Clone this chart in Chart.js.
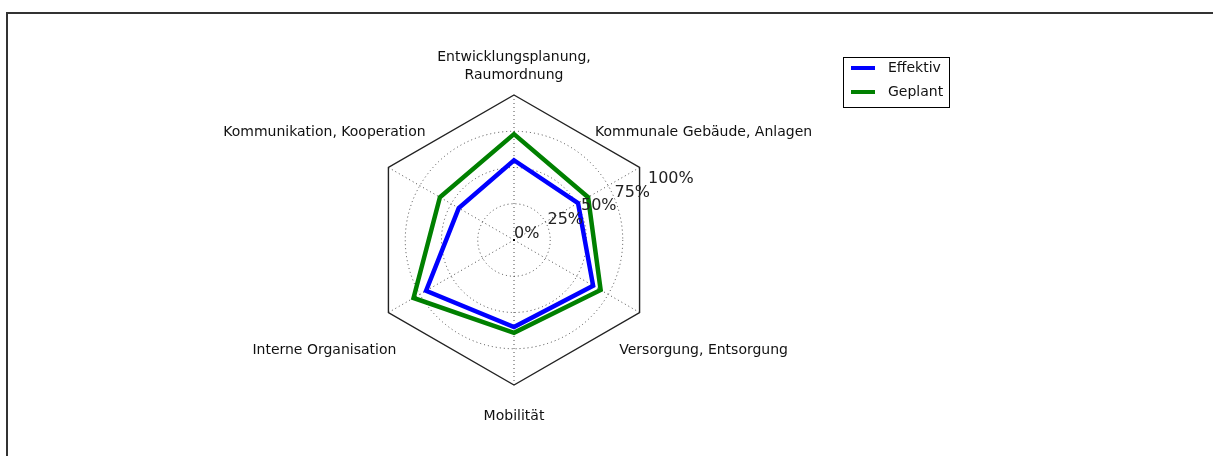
<!DOCTYPE html>
<html>
<head>
<meta charset="utf-8">
<script src="https://cdn.jsdelivr.net/npm/chart.js@4.4.0/dist/chart.umd.min.js"></script>
<style>
    html, body { margin: 0; padding: 0; background: #fff; overflow: hidden; }
    #wrap { position: relative; width: 1213px; height: 456px; overflow: hidden; }
    #frame { position: absolute; left: 6px; top: 12px; width: 1300px; height: 500px;
             border-left: 2px solid #333; border-top: 2px solid #333; }
    #radarChart { position: absolute; left: 0; top: 0; }
</style>
</head>
<body>
<div id="wrap">
    <div id="frame"></div>
    <canvas id="radarChart" width="1213" height="456"></canvas>
</div>
<script>
// categories, clockwise from the top
const categories = [
    ['Entwicklungsplanung,', 'Raumordnung'],
    'Kommunale Gebäude, Anlagen',
    'Versorgung, Entsorgung',
    'Mobilität',
    'Interne Organisation',
    'Kommunikation, Kooperation'
];
const effektiv = [55, 51, 63, 60, 70, 44];
const geplant = [73, 59, 69, 64, 80, 59];
const tickValues = [0, 25, 50, 75, 100];
const tickLabels = ['0%', '25%', '50%', '75%', '100%'];

const FONT = "'DejaVu Sans', sans-serif";

//=========FRAME + LABELS=============
const radarExtras = {
    id: 'radarExtras',
    beforeDatasetsDraw(chart) {
        const scale = chart.scales.r;
        const ctx = chart.ctx;
        const n = chart.data.labels.length;
        // outer hexagon
        ctx.save();
        ctx.beginPath();
        for (let i = 0; i < n; i++) {
            const p = scale.getPointPositionForValue(i, tickValues[tickValues.length - 1]);
            if (i === 0) ctx.moveTo(p.x, p.y); else ctx.lineTo(p.x, p.y);
        }
        ctx.closePath();
        ctx.strokeStyle = '#222';
        ctx.lineWidth = 1.4;
        ctx.setLineDash([]);
        ctx.stroke();

        // category labels
        ctx.font = '14px ' + FONT;
        ctx.fillStyle = '#111';
        ctx.textAlign = 'center';
        ctx.textBaseline = 'middle';
        for (let i = 0; i < n; i++) {
            const p = scale.getPointPositionForValue(i, tickValues[tickValues.length - 1]);
            const vx = p.x - scale.xCenter;
            const vy = p.y - scale.yCenter;
            const side = Math.abs(vx) > 1;
            const lx = scale.xCenter + vx * 1.51;
            const ly = scale.yCenter + vy * (side ? 1.505 : 1.207) + 1;
            const lines = [].concat(chart.data.labels[i]);
            const lh = 18;
            lines.forEach((t, k) => {
                ctx.fillText(t, lx, ly + (k - (lines.length - 1) / 2) * lh);
            });
        }
        ctx.restore();
    },
    afterDatasetsDraw(chart) {
        const scale = chart.scales.r;
        const ctx = chart.ctx;
        const a = 22.5 * Math.PI / 180;
        ctx.save();
        // centre dot
        ctx.fillStyle = '#000';
        ctx.fillRect(scale.xCenter - 1, scale.yCenter - 1, 2, 2);
        // radial tick labels along 22.5deg
        ctx.font = '16px ' + FONT;
        ctx.fillStyle = '#222';
        ctx.textAlign = 'left';
        ctx.textBaseline = 'bottom';
        tickValues.forEach((v, i) => {
            const r = scale.getDistanceFromCenterForValue(v);
            ctx.fillText(tickLabels[i], scale.xCenter + r * Math.cos(a), scale.yCenter - r * Math.sin(a) + 2);
        });

        // legend
        const bx = 843, by = 57, bw = 106, bh = 50;
        ctx.fillStyle = '#fff';
        ctx.fillRect(bx, by, bw, bh);
        ctx.strokeStyle = '#000';
        ctx.lineWidth = 1;
        ctx.strokeRect(bx + 0.5, by + 0.5, bw, bh);
        ctx.font = '14px ' + FONT;
        ctx.textBaseline = 'middle';
        chart.data.datasets.forEach((ds, i) => {
            const y = by + 11 + i * 24;
            ctx.strokeStyle = ds.borderColor;
            ctx.lineWidth = 4;
            ctx.beginPath();
            ctx.moveTo(bx + 8, y);
            ctx.lineTo(bx + 32, y);
            ctx.stroke();
            ctx.fillStyle = '#111';
            ctx.fillText(ds.label, bx + 45, y);
        });
        ctx.restore();
    }
};

const radarCanvas = document.getElementById('radarChart').getContext('2d');
const radar = new Chart(radarCanvas, {
    type: 'radar',
    data: {
        labels: categories,
        datasets: [{
            label: 'Effektiv',
            data: effektiv,
            borderColor: '#0000ff',
            borderWidth: 4.5,
            borderJoinStyle: 'miter',
            backgroundColor: 'transparent',
            fill: false,
            pointRadius: 0
        }, {
            label: 'Geplant',
            data: geplant,
            borderColor: '#008000',
            borderWidth: 4.5,
            borderJoinStyle: 'miter',
            backgroundColor: 'transparent',
            fill: false,
            pointRadius: 0
        }]
    },
    options: {
        responsive: false,
        animation: false,
        layout: { padding: { left: 369, right: 554, top: 95, bottom: 71 } },
        plugins: {
            legend: { display: false },
            tooltip: { enabled: false }
        },
        scales: {
            r: {
                min: tickValues[0],
                max: tickValues[tickValues.length - 1],
                ticks: { stepSize: 25, display: false },
                pointLabels: { display: false },
                grid: {
                    circular: true,
                    lineWidth: 1,
                    color: (c) => (c.tick && c.tick.value === tickValues[tickValues.length - 1]) ? 'rgba(0,0,0,0)' : 'rgba(0,0,0,0.7)',
                    borderDash: [1, 3]
                },
                border: { dash: [1, 3] },
                angleLines: {
                    color: 'rgba(0,0,0,0.7)',
                    lineWidth: 1,
                    borderDash: [1, 3]
                }
            }
        }
    },
    plugins: [radarExtras]
});
</script>
</body>
</html>
